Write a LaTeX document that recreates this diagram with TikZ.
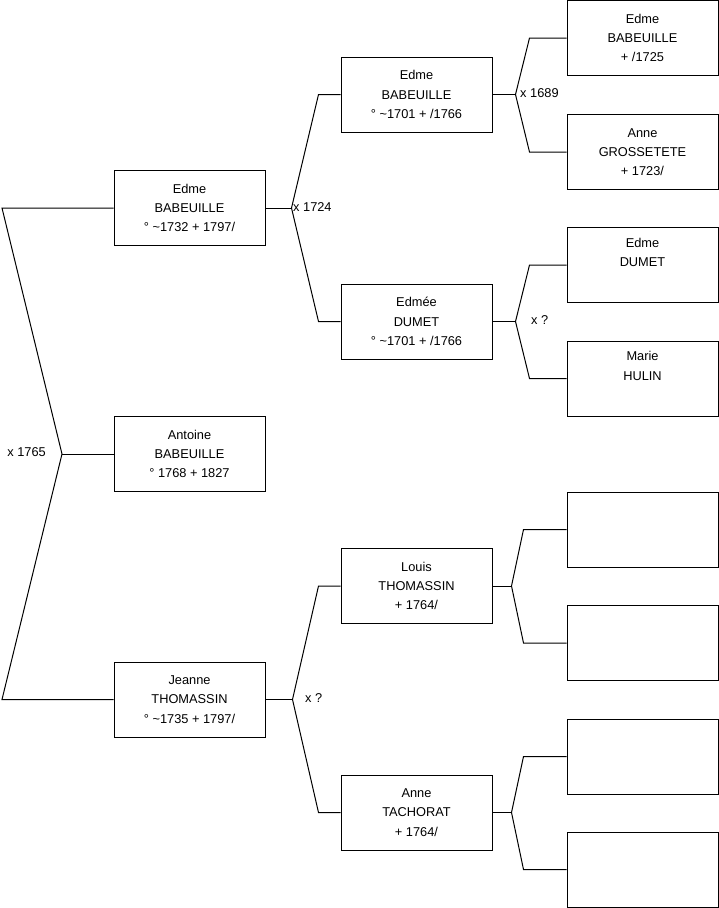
\documentclass[tikz,border=0pt]{standalone}
\usepackage{fontspec}
\setmainfont{Liberation Sans}

\begin{document}
\begin{tikzpicture}[x=1pt, y=-1pt,
    person/.style={draw, line width=1pt, minimum width=151pt, minimum height=75pt,
      inner sep=0pt, align=center, font=\fontsize{12.8}{19.3}\selectfont},
    fork/.style={line width=1pt},
    union/.style={inner sep=0pt, font=\fontsize{12.8}{15}\selectfont}]

  \useasboundingbox (0,0) rectangle (719,908);

  % generation 1
  \node[person] (edmeA)   at (189.5,208)   {Edme\\BABEUILLE\\° \textasciitilde1732 + 1797/};
  \node[person] (antoine) at (189.5,454)   {Antoine\\BABEUILLE\\° 1768 + 1827};
  \node[person] (jeanne)  at (189.5,699.5) {Jeanne\\THOMASSIN\\° \textasciitilde1735 + 1797/};

  % generation 2
  \node[person] (edmeB) at (416.5,94.5)  {Edme\\BABEUILLE\\° \textasciitilde1701 + /1766};
  \node[person] (edmee) at (416.5,321.5) {Edmée\\DUMET\\° \textasciitilde1701 + /1766};
  \node[person] (louis) at (416.5,586)   {Louis\\THOMASSIN\\+ 1764/};
  \node[person] (anneT) at (416.5,812.5) {Anne\\TACHORAT\\+ 1764/};

  % generation 3
  \node[person] (edmeC) at (642.5,38)    {Edme\\BABEUILLE\\+ /1725};
  \node[person] (anneG) at (642.5,152)   {Anne\\GROSSETETE\\+ 1723/};
  \node[person] (edmeD) at (642.5,265)   {Edme\\DUMET\\\strut};
  \node[person] (marie) at (642.5,378.5) {Marie\\HULIN\\\strut};
  \foreach \who/\y in {louisF/529.5, louisM/643, anneF/756.5, anneM/869.5}
    \node[person] (\who) at (642.5,\y) {};

  % forks child -> parents (vertex offset, elbow offset)
  \foreach \kid/\dad/\mum/\dv/\de in {edmeA/edmeB/edmee/26/22, jeanne/louis/anneT/27/22,
                                     edmeB/edmeC/anneG/23/37, edmee/edmeD/marie/23/37,
                                     louis/louisF/louisM/19/43, anneT/anneF/anneM/19/43} {
    \path (\kid.east) ++(\dv,0) coordinate (v\kid);
    \draw[fork] (\kid.east) -- (v\kid);
    \draw[fork] (\dad.west) -- ([xshift=-\de pt]\dad.west) -- (v\kid)
                -- ([xshift=-\de pt]\mum.west) -- (\mum.west);
  }

  % root fork, opening to the left
  \coordinate (vantoine) at (62,454);
  \coordinate (k0) at (2,0);
  \draw[fork] (antoine.west) -- (vantoine);
  \draw[fork] (edmeA.west) -- (edmeA.west -| k0) -- (vantoine)
              -- (jeanne.west -| k0) -- (jeanne.west);

  % marriages
  \node[union, anchor=east] (m1765) at (46,452)  {x 1765};
  \node[union, anchor=west] (m1724) at (293,207) {x 1724};
  \node[union, anchor=west] (m1689) at (520,93)  {x 1689};
  \node[union, anchor=west] (mDum)  at (531,320) {x ?};
  \node[union, anchor=west] (mTho)  at (305,698) {x ?};

\end{tikzpicture}
\end{document}
